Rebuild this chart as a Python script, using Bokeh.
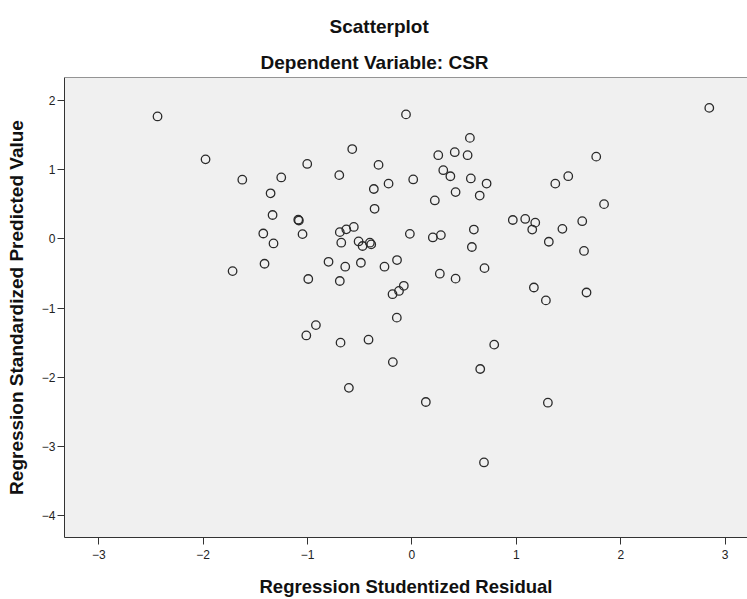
from bokeh.plotting import figure
from bokeh.models import Range1d, FixedTicker, Title, ColumnDataSource, Span
from bokeh.embed import file_html
from bokeh.resources import INLINE

# Regression Studentized Residual (x) and Regression Standardized Predicted Value (y)
residual = [
    -2.437, -1.977, -1.625, -1.252, -1.003, -1.354, -0.696, -0.572, -0.320, -0.224,
    -0.365, -0.358, -1.335, -1.089, -1.083, -1.424, -1.048, -1.326, -0.691, -0.629,
    -0.557, -0.677, -0.511, -0.473, -0.403, -0.390, -0.057, 0.012, -0.020, 2.848,
    0.555, 0.252, 0.410, 0.533, 1.765, 0.300, 0.368, 0.564, 0.715, 1.373,
    1.497, 0.219, 0.418, 0.649, 1.840, 0.966, 1.085, 1.181, 1.152, 1.441,
    1.631, 1.311, 1.648, 0.200, 0.277, 0.593, 0.574, -1.718, -1.412, -0.799,
    -0.639, -0.489, -0.263, -0.143, -0.993, -0.691, -0.078, -0.124, -0.186, -0.145,
    -0.920, -1.012, -0.684, -0.416, -0.183, -0.604, 0.267, 0.418, 0.695, 1.168,
    1.283, 1.672, 0.788, 0.654, 0.133, 1.302, 0.690,
]
predicted = [
    1.767, 1.147, 0.853, 0.886, 1.081, 0.657, 0.919, 1.296, 1.067, 0.796,
    0.719, 0.433, 0.343, 0.276, 0.264, 0.076, 0.067, -0.067, 0.096, 0.136,
    0.171, -0.057, -0.039, -0.104, -0.057, -0.081, 1.796, 0.857, 0.071, 1.890,
    1.457, 1.207, 1.250, 1.207, 1.186, 0.990, 0.903, 0.871, 0.797, 0.796,
    0.904, 0.554, 0.674, 0.624, 0.500, 0.271, 0.286, 0.233, 0.133, 0.143,
    0.254, -0.043, -0.176, 0.019, 0.053, 0.133, -0.119, -0.467, -0.361, -0.333,
    -0.403, -0.346, -0.403, -0.307, -0.581, -0.610, -0.679, -0.753, -0.800, -1.139,
    -1.247, -1.396, -1.500, -1.457, -1.781, -2.153, -0.504, -0.576, -0.424, -0.704,
    -0.890, -0.776, -1.529, -1.881, -2.357, -2.367, -3.230,
]
x_ticks = [-3, -2, -1, 0, 1, 2, 3]
y_ticks = [-4, -3, -2, -1, 0, 1, 2]
x_min, x_max = -3.328, 3.214
y_min, y_max = -4.314, 2.329

title_text = "Scatterplot"
subtitle_text = "Dependent Variable: CSR"
x_label = "Regression Studentized Residual"
y_label = "Regression Standardized Predicted Value"

FONT = "Liberation Sans"

p = figure(
    width=747, height=599,
    output_backend="svg", toolbar_location=None,
    x_range=Range1d(x_min, x_max), y_range=Range1d(y_min, y_max),
    min_border_left=64, min_border_right=0, min_border_top=77, min_border_bottom=57,
)
p.background_fill_color = "#f0f0f0"
p.border_fill_color = "white"
p.outline_line_color = None
p.grid.visible = False

# top edge of the plot frame (the right edge runs off the picture)
p.add_layout(Span(location=y_max, dimension="width", line_color="#333333", line_width=1))

sub = Title(text=subtitle_text, align="left", text_font=FONT, text_font_size="19px",
            text_font_style="bold", text_color="#111111", offset=196, standoff=10)
p.add_layout(sub, "above")
ttl = Title(text=title_text, align="left", text_font=FONT, text_font_size="19px",
            text_font_style="bold", text_color="#111111", offset=265, standoff=16)
p.add_layout(ttl, "above")

for ax in (p.xaxis[0], p.yaxis[0]):
    ax.major_label_text_font = FONT
    ax.major_label_text_font_size = "12px"
    ax.major_label_text_color = "#222222"
    ax.axis_label_text_font = FONT
    ax.axis_label_text_font_style = "bold"
    ax.axis_label_text_color = "#111111"
    ax.axis_line_color = "#333333"
    ax.major_tick_line_color = "#333333"
    ax.major_tick_in = 0
    ax.major_tick_out = 7
    ax.minor_tick_line_color = None

p.xaxis.ticker = FixedTicker(ticks=x_ticks)
p.yaxis.ticker = FixedTicker(ticks=y_ticks)
p.xaxis.axis_label = x_label
p.yaxis.axis_label = y_label
p.xaxis.axis_label_text_font_size = "18.5px"
p.yaxis.axis_label_text_font_size = "19px"
p.xaxis.major_label_standoff = 5
p.yaxis.major_label_standoff = 2
p.xaxis.axis_label_standoff = 14
p.yaxis.axis_label_standoff = 12

src = ColumnDataSource(data=dict(x=residual, y=predicted))
p.scatter("x", "y", source=src, marker="circle", size=8.5,
          fill_color=None, line_color="#2a2a2a", line_width=1.3)

open("out.html", "w").write(file_html(p, INLINE))
